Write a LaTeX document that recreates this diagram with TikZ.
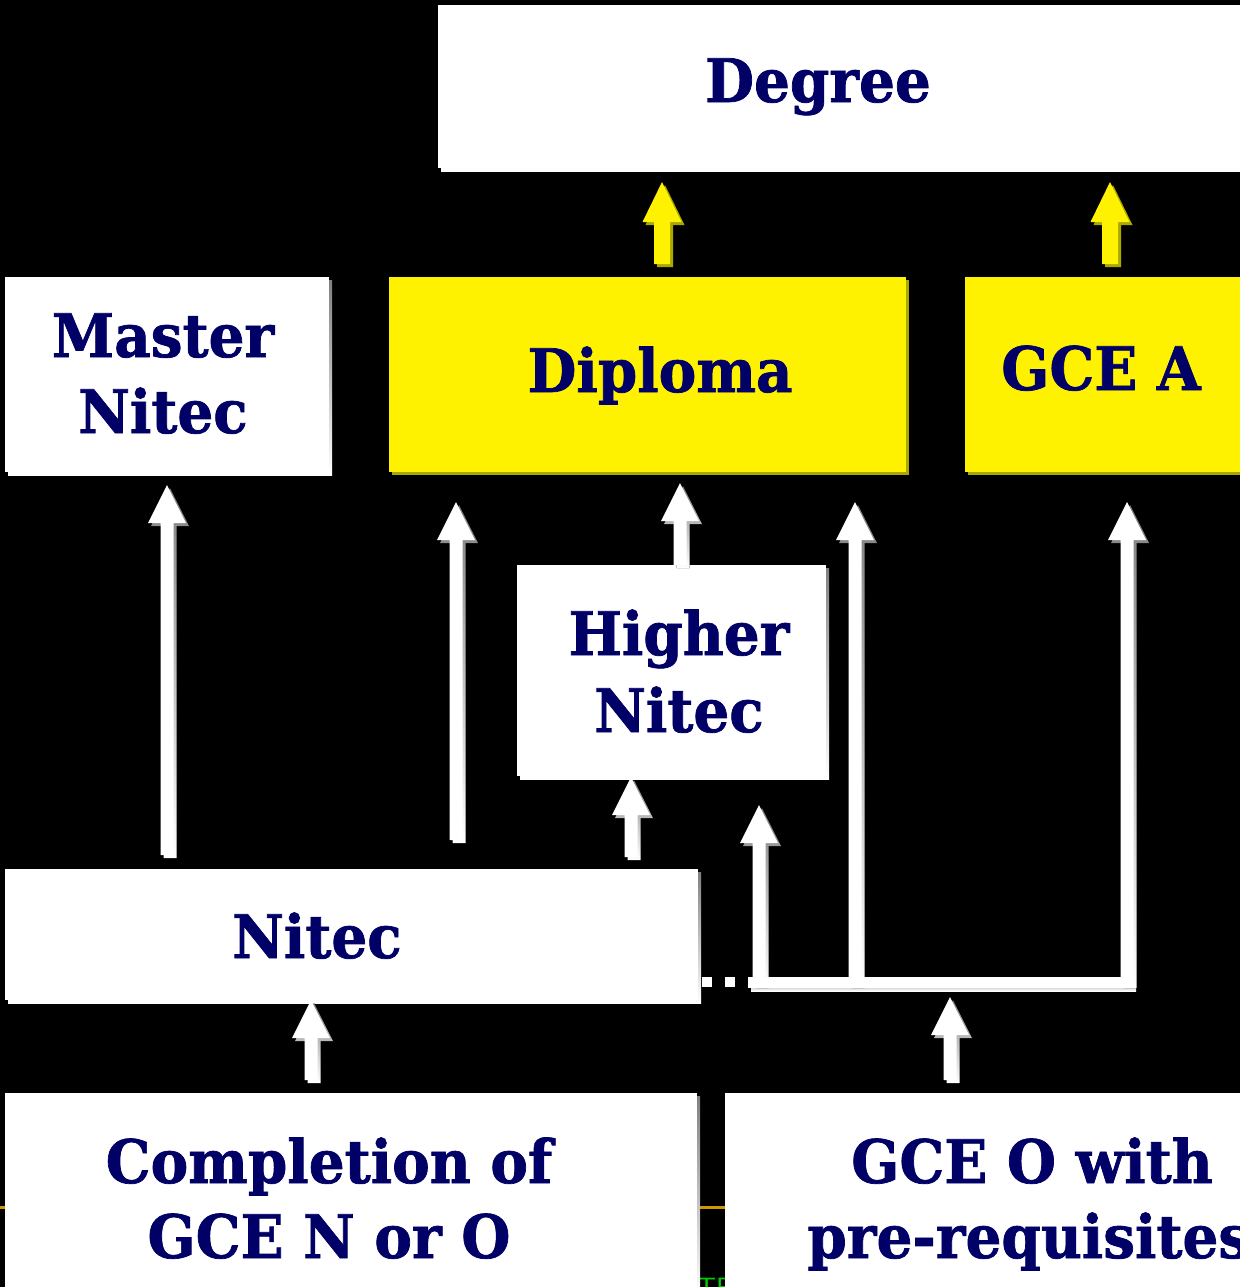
\documentclass[tikz,border=0pt]{standalone}
\usepackage{fontspec}
\setmainfont{DejaVu Serif}[FakeStretch=0.94, BoldFeatures={FakeBold=1.2}]
\begin{document}
\begin{tikzpicture}[x=0.5pt,y=-0.5pt]
\definecolor{navy}{HTML}{000066}
\definecolor{shade}{HTML}{999999}
\definecolor{yshade}{HTML}{A8A800}
\definecolor{orangeline}{HTML}{CC9900}
\definecolor{greentext}{HTML}{00CC00}
\tikzset{
  panelbox/.style={rectangle, inner sep=0pt, outer sep=0pt, anchor=north west},
  lbl/.style={text=navy, font=\bfseries\fontsize{30}{36}\selectfont, inner sep=0pt, anchor=base},
}
% arrow path: #1 x, #2 bottom y, #3 tip y, #4 half shaft, #5 half head, #6 head height
\newcommand\arrpath[6]{(#1-#4,#2) -- (#1-#4,#3+#6) -- (#1-#5,#3+#6) -- (#1,#3) -- (#1+#5,#3+#6) -- (#1+#4,#3+#6) -- (#1+#4,#2) -- cycle}
\newcommand\panel[7]{%
  \fill[#7] (#2+3,#3+3) rectangle ++(#4,#5);
  \node[panelbox, fill=#6, minimum width=#4*0.5pt, minimum height=#5*0.5pt] (#1) at (#2,#3) {};
}
\newcommand\warrow[3]{%
  \fill[shade, shift={(3,3)}] \arrpath{#1}{#2}{#3}{6.5}{19}{38};
  \fill[white] \arrpath{#1}{#2}{#3}{6.5}{19}{38};
}
\newcommand\yarrow[3]{%
  \fill[yshade, shift={(3,3)}] \arrpath{#1}{#2}{#3}{8}{19.5}{40};
  \fill[yellow] \arrpath{#1}{#2}{#3}{8}{19.5}{40};
}
\fill[black] (0,0) rectangle (1240,1287);
\useasboundingbox (0,0) rectangle (1240,1287);
\clip (0,0) rectangle (1240,1287);

% stray lines from the original slide
\fill[orangeline] (0,1206) rectangle (5,1209);
\fill[orangeline] (698,1206) rectangle (725,1209);
\node[text=greentext, font=\sffamily\fontsize{14}{16}\selectfont, anchor=base west, inner sep=0pt] (stray) at (697,1297) {TE};

% panels
\panel{deg}{438}{5}{812}{163}{white}{shade}
\panel{mas}{5}{277}{324}{195}{white}{shade}
\panel{dip}{389}{277}{517}{195}{yellow}{yshade}
\panel{gcea}{965}{277}{285}{195}{yellow}{yshade}
\panel{hn}{517}{565}{309}{211}{white}{shade}
\panel{nit}{5}{869}{693}{131}{white}{shade}
\panel{comp}{5}{1093}{692}{200}{white}{shade}
\panel{gceo}{725}{1093}{525}{200}{white}{shade}

% labels
\node[lbl] (tdeg) at (818,102) {Degree};
\node[lbl] (tmas1) at (163,357) {Master};
\node[lbl] (tmas2) at (163,433) {Nitec};
\node[lbl] (tdip) at (660,392) {Diploma};
\node[lbl] (tgcea) at (1101,390) {GCE A};
\node[lbl] (thn1) at (679,655) {Higher};
\node[lbl] (thn2) at (679,732) {Nitec};
\node[lbl] (tnit) at (317,958) {Nitec};
\node[lbl] (tcomp1) at (329,1183) {Completion of};
\node[lbl] (tcomp2) at (329,1258) {GCE N or O};
\node[lbl] (tgceo1) at (1032,1183) {GCE O with};
\node[lbl, anchor=base west] (tgceo2) at (807,1258) {pre-requisites};

% yellow arrows to Degree
\yarrow{662}{264}{182}
\yarrow{1110}{264}{182}

% white arrows
\warrow{311}{1080}{1000}
\warrow{950}{1080}{997}
\warrow{167}{855}{485}
\warrow{456}{840}{502}
\warrow{631}{857}{777}
\warrow{680}{565}{483}

% network from GCE O
\fill[shade] (751,980) rectangle (1136,991);
\fill[shade, shift={(3,3)}] \arrpath{759}{985}{805}{6.5}{19}{38};
\fill[shade, shift={(3,3)}] \arrpath{855}{985}{502}{6.5}{19}{38};
\fill[shade, shift={(3,3)}] \arrpath{1127}{985}{502}{6.5}{19}{38};
\fill[white] (748,977) rectangle (1133,988);
\fill[white] \arrpath{759}{985}{805}{6.5}{19}{38};
\fill[white] \arrpath{855}{985}{502}{6.5}{19}{38};
\fill[white] \arrpath{1127}{985}{502}{6.5}{19}{38};
% dotted link from Nitec
\fill[white] (702,977) rectangle (712,987);
\fill[white] (725,977) rectangle (735,987);
\end{tikzpicture}
\end{document}
